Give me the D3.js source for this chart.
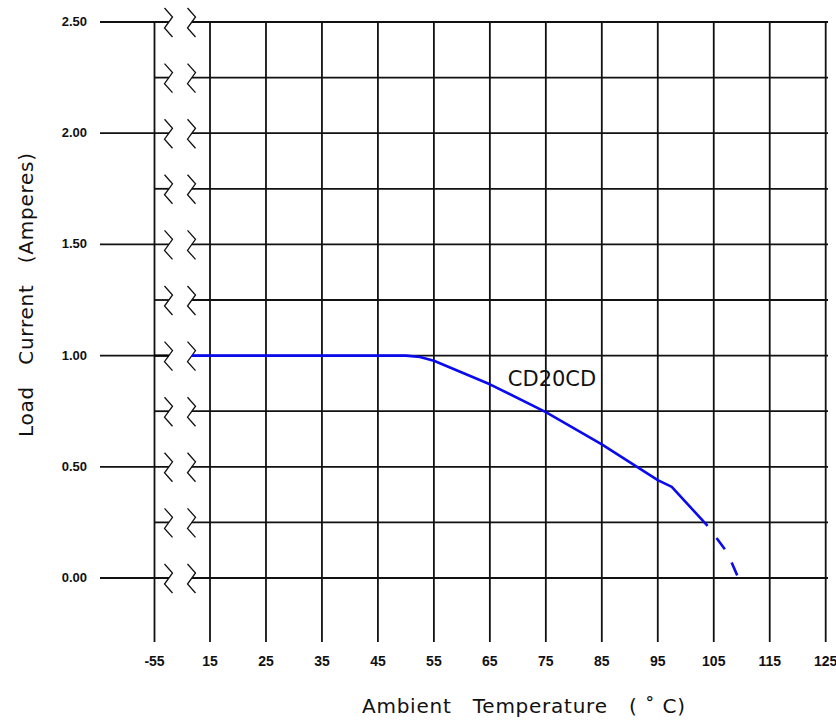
<!DOCTYPE html>
<html>
<head>
<meta charset="utf-8">
<script src="https://cdn.jsdelivr.net/npm/d3@7"></script>
<style>
  html, body { margin: 0; padding: 0; background: #fff; }
  svg { display: block; font-family: "DejaVu Sans", "Liberation Sans", Arial, sans-serif; }
</style>
</head>
<body>
<div id="chart"></div>
<script>
// Derating curve: load current vs ambient temperature, broken x axis (-55 | 15..125).
const tempTicks = [-55, 15, 25, 35, 45, 55, 65, 75, 85, 95, 105, 115, 125];
const currentGrid = [0, 0.25, 0.5, 0.75, 1, 1.25, 1.5, 1.75, 2, 2.25, 2.5];
const currentLabels = [0, 0.5, 1, 1.5, 2, 2.5];

// rated curve (solid part)
const curveTemp = [-55, 50, 52.5, 55, 65, 75, 85, 95, 97.5, 103.9];
const curveLoad = [1, 1, 0.994, 0.977, 0.871, 0.746, 0.601, 0.44, 0.41, 0.234];
// extrapolated tail (dashed)
const tailTemp = [103.9, 107.4, 109.4];
const tailLoad = [0.234, 0.115, 0];

const seriesName = 'CD20CD';

const W = 836, H = 722;

// polylinear scale: the -55 column sits one division left of 15, with a break between
const x = d3.scaleLinear().domain([-55, 15, 125]).range([154.5, 210, 825.7]);
const y = d3.scaleLinear().domain([0, 2.5]).range([578, 22]);

const gridRight = 828;
const gridBottom = 642;
const majorLeft = 100;
const break1 = x(-55) + 10;     // left zigzag column
const break2 = x(15) - 22.5;    // right zigzag column
const zigCross = 4.4;           // where the zigzag crosses its gridline

const svg = d3.select('#chart').append('svg')
  .attr('width', W).attr('height', H)
  .attr('viewBox', [0, 0, W, H]);

svg.append('rect').attr('width', W).attr('height', H).attr('fill', '#fff');

const grid = svg.append('g')
  .attr('stroke', '#111')
  .attr('stroke-width', 1.8)
  .attr('fill', 'none');

// vertical gridlines, running down past the 0.00 line to the tick labels
grid.selectAll('line.v')
  .data(tempTicks)
  .join('line')
  .attr('class', 'v')
  .attr('x1', d => x(d)).attr('x2', d => x(d))
  .attr('y1', y(2.5)).attr('y2', gridBottom);

// horizontal gridlines, interrupted by the axis break
const isMajor = v => currentLabels.includes(v);
grid.selectAll('line.hl')
  .data(currentGrid)
  .join('line')
  .attr('class', 'hl')
  .attr('x1', d => isMajor(d) ? majorLeft : x(-55))
  .attr('x2', break1 + zigCross)
  .attr('y1', d => y(d)).attr('y2', d => y(d));

grid.selectAll('line.hr')
  .data(currentGrid)
  .join('line')
  .attr('class', 'hr')
  .attr('x1', break2 + zigCross)
  .attr('x2', gridRight)
  .attr('y1', d => y(d)).attr('y2', d => y(d));

// zigzag break marks on every gridline, two columns
const zig = d3.line();
const zigPts = cx => cy => [[cx, cy - 14], [cx + 8, cy - 5], [cx, cy + 6], [cx + 8, cy + 15]];
const marks = svg.append('g')
  .attr('stroke', '#111')
  .attr('stroke-width', 1.3)
  .attr('fill', 'none');
[break1, break2].forEach(cx => {
  marks.append('g').selectAll('path')
    .data(currentGrid)
    .join('path')
    .attr('d', d => zig(zigPts(cx)(y(d))));
});

// y tick labels
svg.append('g')
  .attr('font-family', '"Liberation Sans", Arial, sans-serif')
  .attr('font-size', 13)
  .attr('font-weight', 'bold')
  .attr('fill', '#111')
  .attr('text-anchor', 'end')
  .selectAll('text')
  .data(currentLabels)
  .join('text')
  .attr('x', 87)
  .attr('y', d => y(d))
  .attr('dy', '0.3em')
  .text(d3.format('.2f'));

// x tick labels
svg.append('g')
  .attr('font-family', '"Liberation Sans", Arial, sans-serif')
  .attr('font-size', 14)
  .attr('font-weight', 'bold')
  .attr('fill', '#111')
  .attr('text-anchor', 'middle')
  .selectAll('text')
  .data(tempTicks)
  .join('text')
  .attr('x', d => x(d))
  .attr('y', 666)
  .text(d => d);

// curve
const line = d3.line().x(d => x(d[0])).y(d => y(d[1]));
const curve = curveTemp.map((t, i) => [t, curveLoad[i]]);
const tail = tailTemp.map((t, i) => [t, tailLoad[i]]);

const defs = svg.append('defs');
defs.append('clipPath').attr('id', 'clip-left')
  .append('rect')
  .attr('x', x(-55)).attr('y', 0)
  .attr('width', break1 + zigCross - x(-55)).attr('height', H);
defs.append('clipPath').attr('id', 'clip-right')
  .append('rect')
  .attr('x', break2 + zigCross).attr('y', 0)
  .attr('width', W).attr('height', H);

// the part hidden inside the break shows only as a heavy black stub
svg.append('path')
  .datum(curve)
  .attr('clip-path', 'url(#clip-left)')
  .attr('d', line)
  .attr('fill', 'none')
  .attr('stroke', '#000')
  .attr('stroke-width', 2.4);

svg.append('path')
  .datum(curve)
  .attr('clip-path', 'url(#clip-right)')
  .attr('d', line)
  .attr('fill', 'none')
  .attr('stroke', '#0a0aee')
  .attr('stroke-width', 2.6)
  .attr('stroke-linejoin', 'round');

svg.append('path')
  .datum(tail)
  .attr('d', line)
  .attr('fill', 'none')
  .attr('stroke', '#0a0aee')
  .attr('stroke-width', 2.6)
  .attr('stroke-dasharray', '14,15')
  .attr('stroke-dashoffset', 14);

// series label
svg.append('text')
  .attr('x', 552).attr('y', 386)
  .attr('text-anchor', 'middle')
  .attr('font-size', 21)
  .attr('fill', '#111')
  .text(seriesName);

// axis titles
svg.append('text')
  .attr('x', 362).attr('y', 713)
  .attr('font-size', 20)
  .attr('fill', '#111')
  .attr('textLength', 323)
  .attr('lengthAdjust', 'spacing')
  .style('white-space', 'pre')
  .text('Ambient   Temperature   ( ˚ C)');

svg.append('text')
  .attr('transform', 'translate(33, 437) rotate(-90)')
  .attr('font-size', 20)
  .attr('fill', '#111')
  .attr('textLength', 284)
  .attr('lengthAdjust', 'spacing')
  .style('white-space', 'pre')
  .text('Load   Current   (Amperes)');
</script>
</body>
</html>
